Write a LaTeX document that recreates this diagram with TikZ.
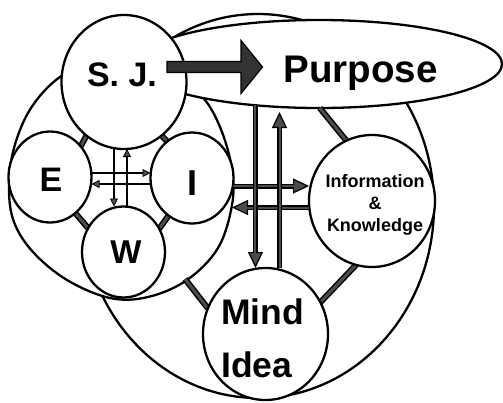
\documentclass[tikz,border=0pt]{standalone}
\usepackage{fontspec}
\setmainfont{Liberation Sans}
\usetikzlibrary{shapes.geometric,arrows.meta}
\pgfdeclarelayer{background}
\pgfsetlayers{background,main}
\newcommand\outarrow[2]{%
  \draw[oline] #1 -- #2;
  \draw[ocore] #1 -- #2;}
\begin{document}
\begin{tikzpicture}[x=1pt,y=-1pt,
  ring/.style={ellipse, draw=black, fill=white, line width=2.3pt, inner sep=0pt, outer sep=0pt},
  smallring/.style={ring, minimum width=83pt, minimum height=91pt},
  largering/.style={ring, minimum width=125pt, minimum height=133pt},
  lbl/.style={font=\bfseries\fontsize{#1}{#1}\selectfont, inner sep=0pt, anchor=base},
  bar/.style={line width=1.5pt, draw=black, double=gray!60!black, double distance=3pt},
  oline/.style={line width=5pt, draw=black, -{Triangle[length=16pt, width=15pt, line width=1.2pt, fill=gray!60!black]}},
  ocore/.style={line width=2pt, draw=gray!60!black, shorten >=14pt},
  thinarr/.style={line width=2pt, draw=black, -{Triangle[length=8pt, width=8pt, line width=0.8pt, fill=gray!60!black]}},
  bigarrow/.style={draw=black, fill=black!80, line width=1.2pt, line join=miter}
]
\useasboundingbox (0,0) rectangle (503,402);

% small and medium circles
\node[largering, minimum height=134pt] (sj) at (124,82) {};
\node[smallring] (e) at (50,177) {};
\node[smallring] (i) at (192,178) {};
\node[smallring] (w) at (123.5,252) {};
\node[largering, minimum width=126pt, minimum height=132pt] (info) at (372,201) {};
\node[largering, minimum width=125pt, minimum height=132pt] (mind) at (265.5,334) {};

\coordinate (lbm) at (185,279);
\coordinate (lsA) at (232.5,186);
\coordinate (lsB) at (232,207.5);
\coordinate (cA) at (114,0);
\coordinate (cB) at (127,0);
\coordinate (rA) at (0,173);
\coordinate (rB) at (0,184);
\coordinate (cD) at (279.5,0);
\coordinate (uptip) at (279.5,112);
\coordinate (bigS) at (167,67);
\coordinate (bigT) at (262.5,67);

\begin{pgfonlayer}{background}
  \node[ring, minimum width=352pt, minimum height=384pt] (bigc) at (258,206) {};
  \draw[line width=2.3pt, fill=white] plot[smooth cycle, tension=0.6] coordinates {
    (95,64) (150,67) (180,80) (205,100) (222,132) (232,170) (232,205) (218,248)
    (187,280) (148,297) (110,298) (67,280) (33,252) (14,222) (9,188) (14,148)
    (31,108) (60,77)};
  \node[ring, minimum width=366pt, minimum height=88pt] (purpose) at (319,64) {};
  % connecting bars
  \draw[bar] (sj.235) -- (e.45);
  \draw[bar] (sj.-55) -- (i.124);
  \draw[bar] (e.-55) -- (w.146);
  \draw[bar] (i.238) -- (w.33);
  \draw[bar] (lbm) -- (mind.156);
  \draw[bar] (info.256) -- (mind.30);
  \draw[bar] (purpose.-89) -- (info.113);
\end{pgfonlayer}

% labels
\node[lbl=38.5] (purposet) at (360.5,82) {Purpose};
\node[lbl=34] (sjt) at (122,86) {S. J.};
\node[lbl=34] (et) at (51,191) {E};
\node[lbl=36] (it) at (192,195) {I};
\node[lbl=33] (wt) at (126,263) {W};
\node[font=\bfseries\fontsize{35.5}{53}\selectfont, inner sep=0pt, align=left, anchor=base west] (mindt) at (221,377) {Mind\\Idea};
\node[font=\bfseries\fontsize{18}{22}\selectfont, inner sep=0pt, align=center, anchor=base] (infot) at (375,231) {Information\\\&\\Knowledge};

% thin arrows in the left group
\draw[thinarr] (sj.south -| cA) -- (w.north -| cA);
\draw[thinarr] (w.north -| cB) -- (sj.south -| cB);
\draw[thinarr] (e.east |- rA) -- (i.west |- rA);
\draw[thinarr] (i.west |- rB) -- (e.east |- rB);

% outlined arrows
\outarrow{(lsA)}{(info.west |- lsA)}
\outarrow{(info.west |- lsB)}{(lsB)}
\outarrow{(purpose.213)}{(mind.north -| purpose.213)}
\outarrow{(mind.north -| cD)}{(uptip)}

% big arrow S.J. -> Purpose
\filldraw[bigarrow] (bigS) ++(0,-5.5) -- ++(74,0) -- ++(0,-21) -- (bigT)
  -- ++(-21.5,26.5) -- ++(0,-21) -- ++(-74,0) -- cycle;
\end{tikzpicture}
\end{document}
